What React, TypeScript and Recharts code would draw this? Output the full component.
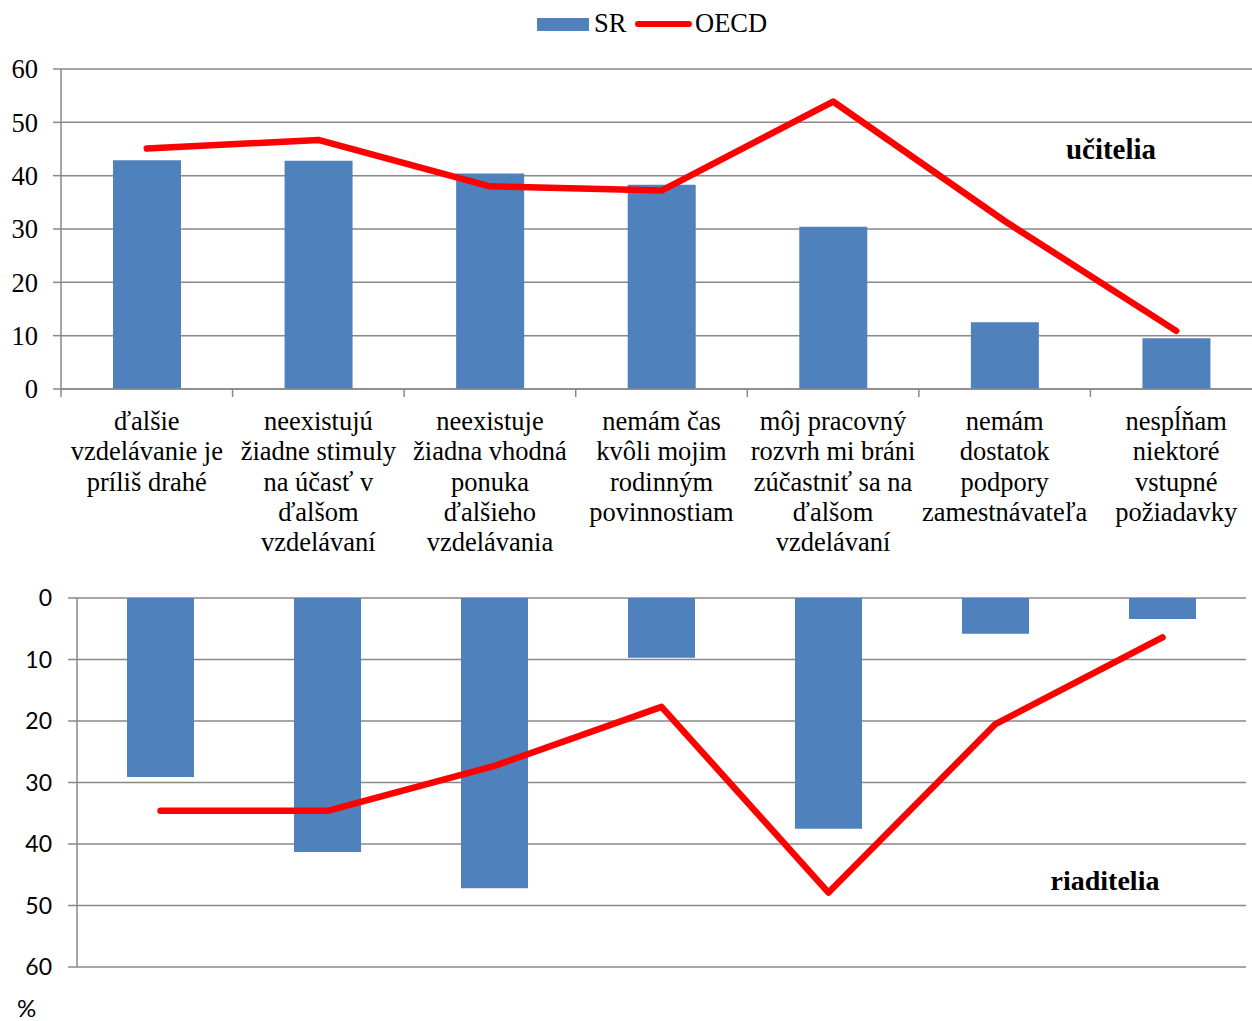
import React from 'react';
import { ComposedChart, Bar, Line, XAxis, YAxis, CartesianGrid, Legend } from 'recharts';

const categories = [
  'ďalšie\nvzdelávanie je\npríliš drahé',
  'neexistujú\nžiadne stimuly\nna účasť v\nďalšom\nvzdelávaní',
  'neexistuje\nžiadna vhodná\nponuka\nďalšieho\nvzdelávania',
  'nemám čas\nkvôli mojim\nrodinným\npovinnostiam',
  'môj pracovný\nrozvrh mi bráni\nzúčastniť sa na\nďalšom\nvzdelávaní',
  'nemám\ndostatok\npodpory\nzamestnávateľa',
  'nespĺňam\nniektoré\nvstupné\npožiadavky',
];
const srTeachers = [42.9, 42.8, 40.4, 38.3, 30.4, 12.5, 9.5];
const oecdTeachers = [45.1, 46.7, 38.0, 37.2, 53.9, 31.5, 10.9];
const srPrincipals = [29.1, 41.3, 47.2, 9.7, 37.5, 5.8, 3.4];
const oecdPrincipals = [34.6, 34.6, 27.3, 17.7, 47.9, 20.5, 6.4];
const yTicks = [0, 10, 20, 30, 40, 50, 60];
const seriesNames = ['SR', 'OECD'];
const panelLabels = ['učitelia', 'riaditelia'];
const unitLabel = '%';

const teacherData = categories.map((cat, i) => ({ cat, sr: srTeachers[i], oecd: oecdTeachers[i] }));
const principalData = categories.map((cat, i) => ({ cat, sr: srPrincipals[i], oecd: oecdPrincipals[i] }));

const SERIF = '"Liberation Serif", "Times New Roman", serif';
const SANS = 'Lato, "Liberation Sans", sans-serif';
const BLUE = '#4F81BD';
const RED = '#FF0000';
const GRID = '#888888';

const CategoryTick = (props: any) => {
  const { x, y, payload } = props;
  const lines = String(payload.value).split('\n');
  const off = typeof payload.offset === 'number' ? payload.offset : 0;
  const isLast = payload.index === categories.length - 1;
  return (
    <g>
      {off > 0 && <line x1={x - off} x2={x - off} y1={y} y2={y + 8} stroke={GRID} strokeWidth={1.5} />}
      {off > 0 && isLast && <line x1={x + off} x2={x + off} y1={y} y2={y + 8} stroke={GRID} strokeWidth={1.5} />}
      <text x={x} y={y} textAnchor="middle" fontFamily={SERIF} fontSize={26.5} fill="#000">
        {lines.map((l, i) => (
          <tspan key={i} x={x} dy={i === 0 ? 41 : 30.3}>{l}</tspan>
        ))}
      </text>
    </g>
  );
};

const LegendContent = (props: any) => {
  const payload = props.payload || [];
  const bar = payload.find((p: any) => p.value === seriesNames[0]);
  const line = payload.find((p: any) => p.value === seriesNames[1]);
  const textStyle: React.CSSProperties = {
    position: 'absolute', top: 7.7, fontFamily: SERIF, fontSize: 26.5, lineHeight: '30px', color: '#000', whiteSpace: 'nowrap',
  };
  return (
    <div style={{ position: 'relative', width: 1252, height: 40 }}>
      <div style={{ position: 'absolute', left: 537, top: 18, width: 52, height: 13, background: bar ? bar.color : BLUE }} />
      <span style={{ ...textStyle, left: 594 }}>{bar ? bar.value : seriesNames[0]}</span>
      <div style={{ position: 'absolute', left: 635, top: 20.5, width: 57, height: 6, borderRadius: 3, background: line ? line.color : RED }} />
      <span style={{ ...textStyle, left: 695 }}>{line ? line.value : seriesNames[1]}</span>
    </div>
  );
};

const annotationStyle: React.CSSProperties = {
  position: 'absolute', fontFamily: SERIF, fontWeight: 'bold', lineHeight: '28px', color: '#000',
  transform: 'translateX(-50%)', whiteSpace: 'nowrap',
};

export default function App() {
  return (
    <div style={{ position: 'absolute', left: 0, top: 0, width: 1252, height: 1021, overflow: 'hidden', background: '#fff' }}>
      <div style={{ position: 'absolute', left: 0, top: 0 }}>
        <ComposedChart width={1262} height={570} data={teacherData} margin={{ top: 69, right: 0, left: 0, bottom: 0 }}>
          <CartesianGrid horizontal vertical={false} stroke={GRID} strokeWidth={1.5} />
          <XAxis
            dataKey="cat"
            type="category"
            interval={0}
            height={181}
            axisLine={{ stroke: GRID, strokeWidth: 1.5 }}
            tickLine={false}
            tickSize={0}
            tickMargin={0}
            tick={<CategoryTick />}
          />
          <YAxis
            domain={[0, 60]}
            ticks={yTicks}
            interval={0}
            width={61}
            tickSize={8}
            tickMargin={15}
            axisLine={{ stroke: GRID, strokeWidth: 1.5 }}
            tickLine={{ stroke: GRID, strokeWidth: 1.5 }}
            tick={{ fontFamily: SERIF, fontSize: 26.5, fill: '#000' }}
          />
          <Legend verticalAlign="middle" align="center" wrapperStyle={{ top: 0, left: 0, width: 1252, height: 40 }} content={<LegendContent />} />
          <Bar dataKey="sr" name={seriesNames[0]} fill={BLUE} barSize={68} isAnimationActive={false} />
          <Line dataKey="oecd" name={seriesNames[1]} type="linear" stroke={RED} strokeWidth={6.5} strokeLinecap="round" strokeLinejoin="round" dot={false} activeDot={false} isAnimationActive={false} />
        </ComposedChart>
      </div>
      <div style={{ position: 'absolute', left: 0, top: 560 }}>
        <ComposedChart width={1246} height={461} data={principalData} margin={{ top: 38, right: 0, left: 0, bottom: 54 }}>
          <CartesianGrid horizontal vertical={false} stroke={GRID} strokeWidth={1.5} />
          <XAxis dataKey="cat" type="category" hide />
          <YAxis
            reversed
            domain={[0, 60]}
            ticks={yTicks}
            interval={0}
            width={77}
            tickSize={9}
            tickMargin={16}
            axisLine={{ stroke: GRID, strokeWidth: 1.5 }}
            tickLine={{ stroke: GRID, strokeWidth: 1.5 }}
            tick={{ fontFamily: SANS, fontSize: 23, fill: '#000' }}
          />
          <Bar dataKey="sr" name={seriesNames[0]} fill={BLUE} barSize={67} isAnimationActive={false} />
          <Line dataKey="oecd" name={seriesNames[1]} type="linear" stroke={RED} strokeWidth={6.5} strokeLinecap="round" strokeLinejoin="round" dot={false} activeDot={false} isAnimationActive={false} />
        </ComposedChart>
      </div>
      <div style={{ ...annotationStyle, left: 1111, top: 135, fontSize: 29 }}>{panelLabels[0]}</div>
      <div style={{ ...annotationStyle, left: 1105, top: 867, fontSize: 28 }}>{panelLabels[1]}</div>
      <div style={{ position: 'absolute', left: 17, top: 996, fontFamily: SANS, fontSize: 24, lineHeight: '24px', color: '#000' }}>{unitLabel}</div>
    </div>
  );
}
